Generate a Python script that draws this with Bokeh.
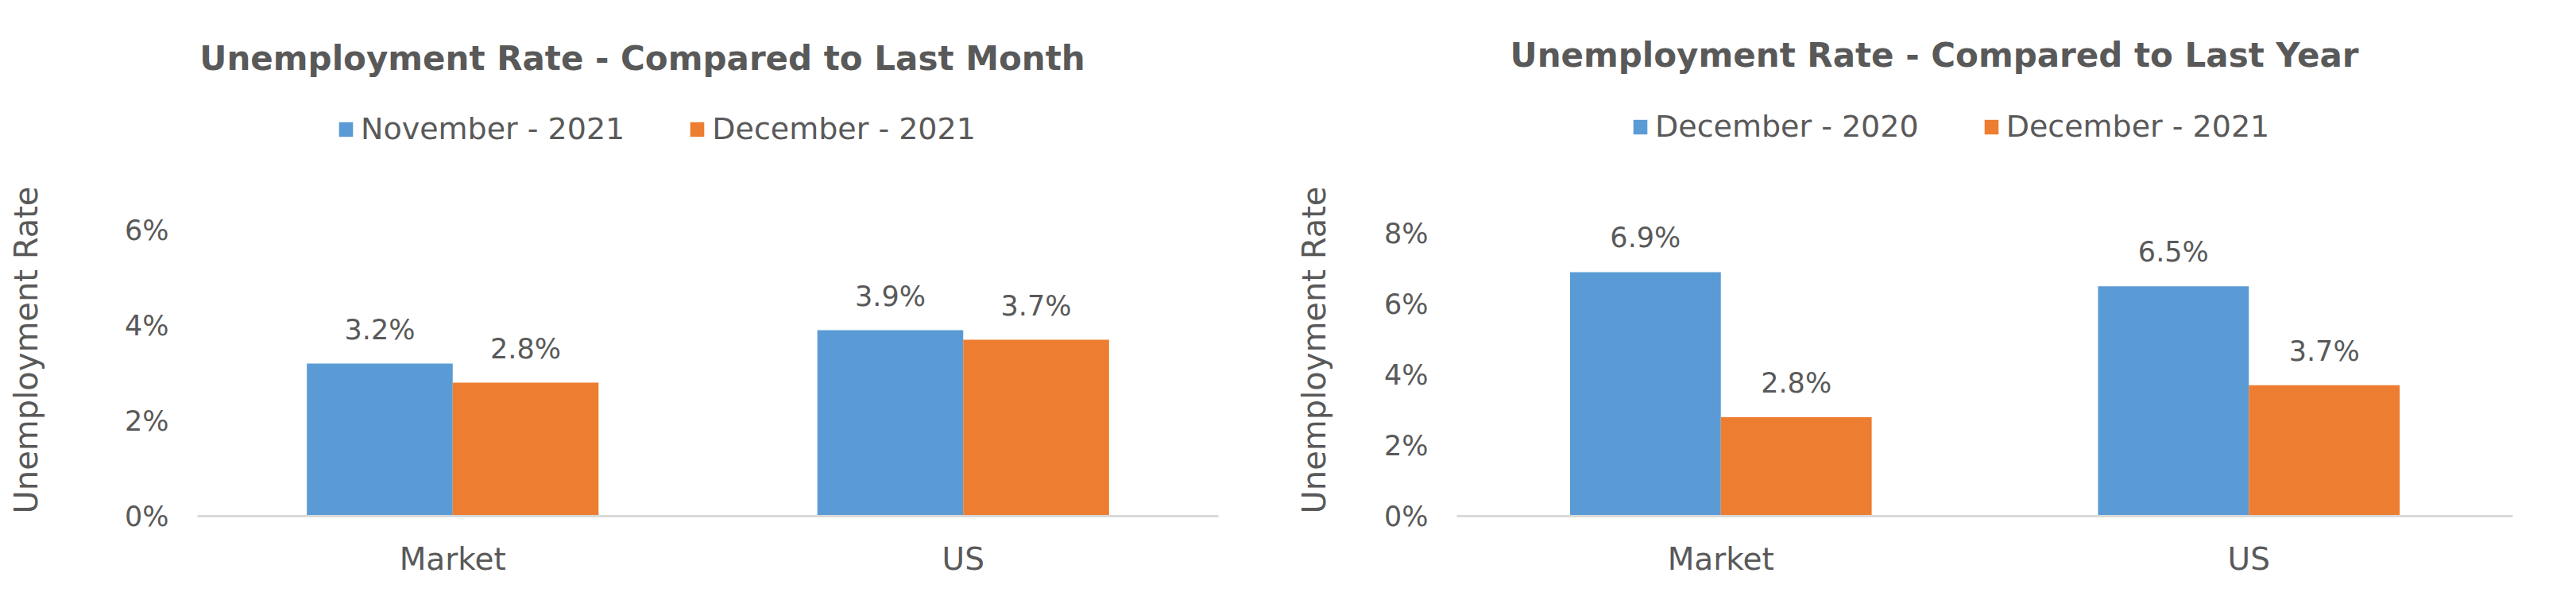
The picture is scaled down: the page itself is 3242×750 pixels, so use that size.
from bokeh.plotting import figure
from bokeh.layouts import row, column
from bokeh.models import (ColumnDataSource, FactorRange, Range1d, FixedTicker, Legend,
                          LegendItem, Label)
from bokeh.transform import dodge
from bokeh.core.properties import value
from bokeh.embed import file_html
from bokeh.resources import INLINE

# ---------------- data ----------------
categories = ["Market", "US"]

month_title = "Unemployment Rate - Compared to Last Month"
month_series = ["November - 2021", "December - 2021"]
month_prev = [3.2, 3.9]
month_curr = [2.8, 3.7]
month_ticks = [0, 2, 4, 6]
month_tick_labels = ["0%", "2%", "4%", "6%"]

year_title = "Unemployment Rate - Compared to Last Year"
year_series = ["December - 2020", "December - 2021"]
year_prev = [6.9, 6.5]
year_curr = [2.8, 3.7]
year_ticks = [0, 2, 4, 6, 8]
year_tick_labels = ["0%", "2%", "4%", "6%", "8%"]

y_axis_label = "Unemployment Rate"

BLUE = "#5B9BD5"
ORANGE = "#ED7D31"
TEXT = "#595959"
FONT = "DejaVu Sans"

HEADER_H = 200
CHART_H = 550
CHART_W = 1621
TOTAL_W = 2 * CHART_W
BORDER_TOP = 31
BORDER_BOTTOM = 101
FRAME_H = CHART_H - BORDER_TOP - BORDER_BOTTOM


def make_chart(prev, curr, ticks, tick_labels, y_end, border_left, border_right,
               label_standoff):
    src = ColumnDataSource(dict(
        cat=categories, prev=prev, curr=curr,
        prev_txt=[f"{v:.1f}%" for v in prev],
        curr_txt=[f"{v:.1f}%" for v in curr],
    ))
    p = figure(x_range=FactorRange(*categories, range_padding=0),
               y_range=Range1d(0, y_end),
               width=CHART_W, height=CHART_H, output_backend="svg",
               toolbar_location=None, title=None,
               min_border_left=border_left, min_border_right=border_right,
               min_border_bottom=BORDER_BOTTOM, min_border_top=BORDER_TOP)
    p.outline_line_color = None
    p.xgrid.grid_line_color = None
    p.ygrid.grid_line_color = None

    w = 0.2857
    p.vbar(x=dodge("cat", -w / 2, range=p.x_range), top="prev", width=w,
           source=src, fill_color=BLUE, line_color=None)
    p.vbar(x=dodge("cat", w / 2, range=p.x_range), top="curr", width=w,
           source=src, fill_color=ORANGE, line_color=None)

    for col, off, top in (("prev_txt", -w / 2, "prev"), ("curr_txt", w / 2, "curr")):
        p.text(x=dodge("cat", off, range=p.x_range), y=top, text=col, source=src,
               text_align="center", text_baseline="alphabetic", y_offset=-43,
               text_font=value(FONT), text_font_size="35px", text_color=TEXT)

    # y axis
    p.yaxis.ticker = FixedTicker(ticks=ticks)
    p.yaxis.major_label_overrides = {t: l for t, l in zip(ticks, tick_labels)}
    p.yaxis.axis_line_color = None
    p.yaxis.major_tick_line_color = None
    p.yaxis.minor_tick_line_color = None
    p.yaxis.major_tick_out = 0
    p.yaxis.major_label_standoff = 36
    p.yaxis.major_label_text_font = FONT
    p.yaxis.major_label_text_font_size = "35px"
    p.yaxis.major_label_text_color = TEXT
    p.yaxis.axis_label = y_axis_label
    p.yaxis.axis_label_text_font = FONT
    p.yaxis.axis_label_text_font_size = "40px"
    p.yaxis.axis_label_text_font_style = "normal"
    p.yaxis.axis_label_text_color = TEXT
    p.yaxis.axis_label_standoff = label_standoff

    # x axis
    p.xaxis.axis_line_color = "#D9D9D9"
    p.xaxis.axis_line_width = 3
    p.xaxis.major_tick_line_color = None
    p.xaxis.minor_tick_line_color = None
    p.xaxis.major_tick_out = 0
    p.xaxis.major_label_standoff = 31
    p.xaxis.major_label_text_font = FONT
    p.xaxis.major_label_text_font_size = "39px"
    p.xaxis.major_label_text_color = TEXT
    return p


# header strip with the two chart titles and legends (coordinates = page pixels)
header = figure(width=TOTAL_W, height=HEADER_H, output_backend="svg",
                toolbar_location=None, title=None,
                x_range=Range1d(0, TOTAL_W), y_range=Range1d(HEADER_H, 0),
                x_axis_type=None, y_axis_type=None,
                min_border_left=0, min_border_right=0, min_border_top=0,
                min_border_bottom=0)
header.outline_line_color = None
header.xgrid.grid_line_color = None
header.ygrid.grid_line_color = None

# legend swatches (kept outside the visible strip)
sw_blue = header.vbar(x=[-50], top=[-50], width=1, fill_color=BLUE, line_color=None)
sw_orange = header.vbar(x=[-50], top=[-50], width=1, fill_color=ORANGE, line_color=None)

for title, series, tx, ty, lx, ly in (
        (month_title, month_series, 808, 73, 424, 16),
        (year_title, year_series, 2434, 69, 2053, 19)):
    header.add_layout(Label(x=tx, y=ty, text=title, text_align="center",
                            text_baseline="alphabetic", text_font=FONT,
                            text_font_size="42px", text_font_style="bold",
                            text_color=TEXT))
    legend = Legend(items=[LegendItem(label=series[0], renderers=[sw_blue]),
                           LegendItem(label=series[1], renderers=[sw_orange])],
                    orientation="horizontal", location=(lx, ly),
                    glyph_width=22, glyph_height=23, label_height=23,
                    label_standoff=8, spacing=80, padding=0, margin=0,
                    label_text_font=FONT, label_text_font_size="38px",
                    label_text_color=TEXT, border_line_color=None,
                    background_fill_alpha=0)
    header.add_layout(legend, "center")

left = make_chart(month_prev, month_curr, month_ticks, month_tick_labels,
                  y_end=FRAME_H / 60.0, border_left=248, border_right=88,
                  label_standoff=98)
right = make_chart(year_prev, year_curr, year_ticks, year_tick_labels,
                   y_end=FRAME_H / 44.5, border_left=212, border_right=80,
                   label_standoff=62)

layout = column(header, row(left, right, spacing=0), spacing=0)
open("out.html", "w").write(file_html(layout, INLINE))
